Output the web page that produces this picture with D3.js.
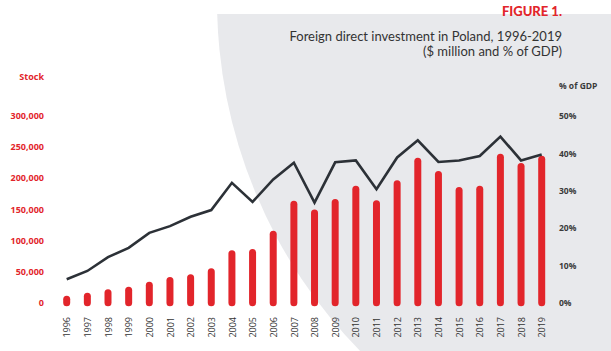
<!DOCTYPE html>
<html>
<head>
<meta charset="utf-8">
<script src="https://cdn.jsdelivr.net/npm/d3@7"></script>
<style>
  html, body { margin: 0; padding: 0; background: #fff; }
  svg { display: block; }
</style>
</head>
<body>
<svg id="chart" width="611" height="351"></svg>
<script>
// data
const years = ['1996','1997','1998','1999','2000','2001','2002','2003','2004','2005','2006','2007',
               '2008','2009','2010','2011','2012','2013','2014','2015','2016','2017','2018','2019'];
const stock = [5600, 10400, 15900, 20000, 28000, 35600, 40000, 49600, 78400, 80500, 110000, 158000,
               143900, 160700, 182000, 158600, 190700, 227000, 205600, 180000, 182000, 233400, 218500, 230200];
const pctGdp = [6.3, 8.5, 12.2, 14.7, 18.7, 20.5, 23.0, 24.8, 32.1, 27.0, 33.0, 37.5,
                26.8, 37.6, 38.1, 30.4, 38.9, 43.5, 37.7, 38.1, 39.3, 44.5, 38.1, 39.7];
const stockTicks = [0, 50000, 100000, 150000, 200000, 250000, 300000];
const pctTicks = [0, 10, 20, 30, 40, 50];

const RED = '#e2252b';
const DARK = '#2c3137';

const svg = d3.select('#chart');

// gray background shape
svg.append('clipPath').attr('id', 'bgclip')
    .append('rect').attr('x', 0).attr('y', 14).attr('width', 611).attr('height', 351);
svg.append('circle')
    .attr('cx', 719).attr('cy', 0).attr('r', 502)
    .attr('fill', '#e8e9ec')
    .attr('clip-path', 'url(#bgclip)');

// title
const title = svg.append('g').attr('text-anchor', 'end').attr('font-family', 'Lato, sans-serif');
title.append('text').attr('x', 562).attr('y', 15.5)
    .attr('font-size', 13).attr('font-weight', 900).attr('fill', RED).text('FIGURE 1.');
title.append('text').attr('x', 562).attr('y', 41)
    .attr('font-size', 13).attr('fill', '#333').text('Foreign direct investment in Poland, 1996-2019');
title.append('text').attr('x', 562).attr('y', 56)
    .attr('font-size', 13).attr('fill', '#333').text('($ million and % of GDP)');

// scales
const x = d3.scalePoint().domain(years).range([66.7, 541.7]);
const yL = d3.scaleLinear().domain([0, 300000]).range([302.7, 115.7]);
const yR = d3.scaleLinear().domain([0, 50]).range([302.7, 116]);

// left axis
const leftAxis = svg.append('g')
    .attr('transform', 'translate(44,0)')
    .call(d3.axisLeft(yL).tickValues(stockTicks).tickSize(0).tickPadding(0).tickFormat(d3.format(',')));
leftAxis.select('.domain').remove();
leftAxis.selectAll('text')
    .attr('font-family', '"Open Sans", sans-serif').attr('font-size', 9).attr('font-weight', 700)
    .attr('fill', RED);

svg.append('text').attr('x', 44).attr('y', 80).attr('text-anchor', 'end')
    .attr('font-family', '"Open Sans", sans-serif').attr('font-size', 9).attr('font-weight', 700)
    .attr('fill', RED).text('Stock');

// right axis
const rightAxis = svg.append('g')
    .attr('transform', 'translate(559,0)')
    .call(d3.axisRight(yR).tickValues(pctTicks).tickSize(0).tickPadding(0).tickFormat(d => d + '%'));
rightAxis.select('.domain').remove();
rightAxis.selectAll('text')
    .attr('font-family', '"Open Sans", sans-serif').attr('font-size', 8.5).attr('font-weight', 700)
    .attr('fill', '#3a3a3a');

svg.append('text').attr('x', 559).attr('y', 89)
    .attr('font-family', '"Open Sans", sans-serif').attr('font-size', 8.5).attr('font-weight', 700)
    .attr('fill', '#3a3a3a').text('% of GDP');

// bars as round-capped lines
svg.append('g').selectAll('line')
    .data(years)
    .enter().append('line')
    .attr('x1', d => x(d)).attr('x2', d => x(d))
    .attr('y1', yL(0)).attr('y2', (d, i) => yL(stock[i]))
    .attr('stroke', RED).attr('stroke-width', 7).attr('stroke-linecap', 'round');

// % of GDP line
const line = d3.line()
    .x((d, i) => x(years[i]))
    .y(d => yR(d));
svg.append('path')
    .datum(pctGdp)
    .attr('d', line)
    .attr('fill', 'none').attr('stroke', DARK).attr('stroke-width', 2.6)
    .attr('stroke-linejoin', 'miter');

// x axis labels
const xAxis = svg.append('g')
    .attr('transform', 'translate(0,317)')
    .call(d3.axisBottom(x).tickSize(0).tickPadding(0));
xAxis.select('.domain').remove();
xAxis.selectAll('text')
    .attr('transform', 'rotate(-90)')
    .attr('text-anchor', 'end')
    .attr('x', 0).attr('y', 0).attr('dy', '0.35em')
    .attr('font-family', '"Open Sans", sans-serif').attr('font-size', 9)
    .attr('fill', '#333');
</script>
</body>
</html>
